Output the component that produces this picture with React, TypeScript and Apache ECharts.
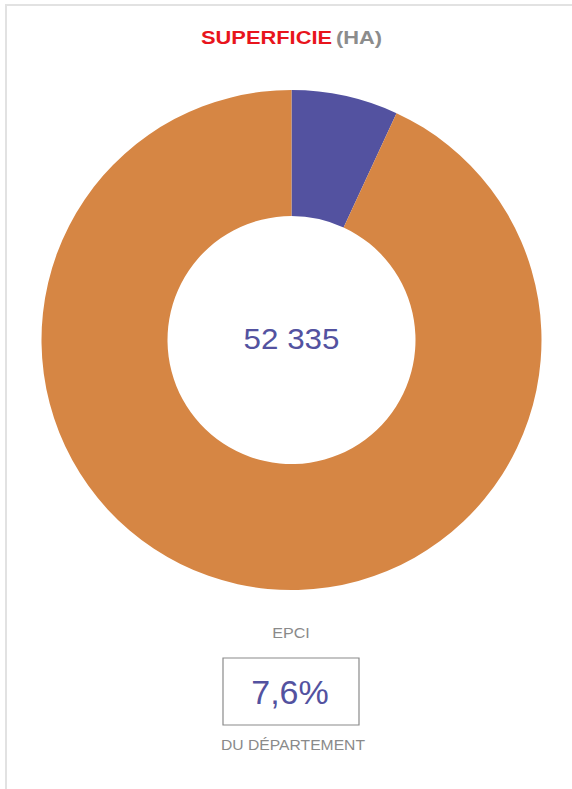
import React, { useEffect, useRef } from "react";
import * as echarts from "echarts";

const categories = ["EPCI", "Reste du département"];
const shares = [6.9, 93.1];
const colors = ["#5352a0", "#d68644"];
const centerValue = "52 335";
const shareLabel = "7,6%";
const titleMain = "SUPERFICIE";
const titleUnit = "(HA)";
const topLabel = "EPCI";
const bottomLabel = "DU DÉPARTEMENT";

export default function App() {
  const ref = useRef<HTMLDivElement>(null);
  useEffect(() => {
    document.body.style.margin = "0";
    const chart = echarts.init(ref.current!, null, { renderer: "svg" });
    const font = "'Liberation Sans', Arial, sans-serif";
    chart.setOption({
      animation: false,
      backgroundColor: "#ffffff",
      series: [
        {
          type: "pie",
          center: [291.5, 340],
          radius: [124, 250],
          startAngle: 90,
          clockwise: true,
          label: { show: false },
          labelLine: { show: false },
          emphasis: { disabled: true },
          silent: true,
          data: categories.map((c, i) => ({
            name: c,
            value: shares[i],
            itemStyle: { color: colors[i] },
          })),
        },
      ],
      graphic: [
        { type: "line", shape: { x1: 6, y1: 4, x2: 6, y2: 789 }, style: { stroke: "#e2e2e2", lineWidth: 2 } },
        { type: "line", shape: { x1: 5, y1: 5, x2: 572, y2: 5 }, style: { stroke: "#e2e2e2", lineWidth: 2 } },
        {
          type: "text",
          x: 291.5,
          y: 37,
          scaleX: 1.15,
          style: {
            text: `{a|${titleMain}} {b|${titleUnit}}`,
            align: "center",
            verticalAlign: "middle",
            rich: {
              a: { fill: "#e8141c", fontSize: 19, fontWeight: "bold", fontFamily: font },
              b: { fill: "#8c8c8c", fontSize: 19, fontWeight: "bold", fontFamily: font },
            },
          },
        },
        {
          type: "text",
          x: 291.5,
          y: 339,
          scaleX: 1.08,
          style: {
            text: centerValue,
            fill: colors[0],
            fontSize: 29,
            fontFamily: font,
            align: "center",
            verticalAlign: "middle",
          },
        },
        {
          type: "text",
          x: 291,
          y: 633,
          scaleX: 1.15,
          style: {
            text: topLabel,
            fill: "#8a8a8a",
            fontSize: 14,
            fontFamily: font,
            align: "center",
            verticalAlign: "middle",
          },
        },
        {
          type: "rect",
          shape: { x: 223, y: 658, width: 136, height: 67 },
          style: { fill: "none", stroke: "#8a8a8a", lineWidth: 1.2 },
        },
        {
          type: "text",
          x: 290,
          y: 692,
          style: {
            text: shareLabel,
            fill: colors[0],
            fontSize: 34,
            fontFamily: font,
            align: "center",
            verticalAlign: "middle",
          },
        },
        {
          type: "text",
          x: 293,
          y: 745,
          scaleX: 1.12,
          style: {
            text: bottomLabel,
            fill: "#8a8a8a",
            fontSize: 14,
            fontFamily: font,
            align: "center",
            verticalAlign: "middle",
          },
        },
      ],
    });
    return () => chart.dispose();
  }, []);
  return <div ref={ref} style={{ position: "absolute", left: 0, top: 0, width: 572, height: 789 }} />;
}
